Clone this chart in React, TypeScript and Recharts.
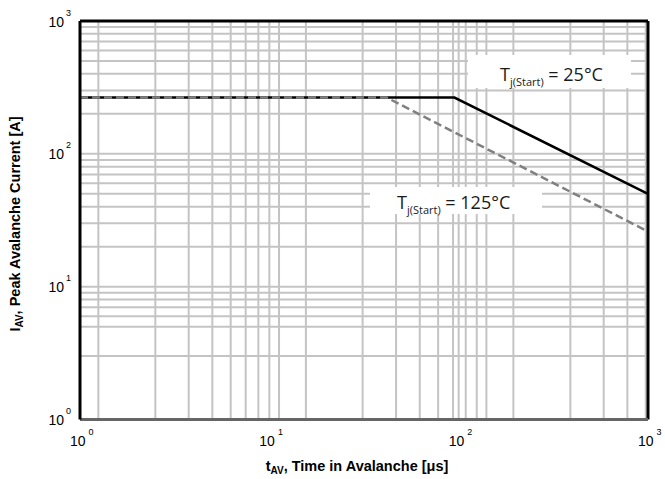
import React from 'react';
import {
  LineChart,
  Line,
  XAxis,
  YAxis,
  ReferenceLine,
} from 'recharts';

// decade ticks on both log axes
const xTicks = [1, 10, 100, 1000];
const yTicks = [1, 10, 100, 1000];

// grid positions (in axis units)
const xGrid = [
  1.25, 2.5, 3.75, 5, 6.25, 7.5, 8.75, 10, 11.25,
  15.6, 31.1, 46.7, 62.3, 77.9, 93.4, 100, 109, 124.6, 140.1,
  194.5, 389, 583.5, 778, 972.5,
];
const yGrid = [
  3, 5, 6, 7, 8, 9,
  10, 20, 30, 40, 50, 60, 70, 80, 90,
  100, 200, 300, 400, 500, 600, 700, 800, 900,
];

// avalanche curves: time [us] vs peak current [A]
const tAv25 = [1, 95, 1000];
const iAv25 = [265, 265, 50];
const tAv125 = [1, 41.7, 1000];
const iAv125 = [265, 265, 26];

const curve25 = tAv25.map((t, k) => ({ t, i: iAv25[k] }));
const curve125 = tAv125.map((t, k) => ({ t, i: iAv125[k] }));

const ARIAL = '"Liberation Sans", Arial, sans-serif';
const LABEL_FONT = '"Open Sans", "Noto Sans", sans-serif';
const GRID = '#c4c4c4';

function YTick(props: any) {
  const { x, y, payload } = props;
  const exp = Math.round(Math.log10(payload.value));
  return (
    <text x={x - 1} y={y + 5.5} textAnchor="end" fontFamily={ARIAL} fontSize={14} fill="#000">
      10
      <tspan dy={-11} dx={2} fontSize={9}>{exp}</tspan>
    </text>
  );
}

function XTick(props: any) {
  const { x, y, payload } = props;
  const exp = Math.round(Math.log10(payload.value));
  return (
    <text x={x - 10} y={y + 18} fontFamily={ARIAL} fontSize={14} fill="#000">
      10
      <tspan dy={-11} dx={3} fontSize={9}>{exp}</tspan>
    </text>
  );
}

function TempLabel({ bx, by, bw, bh, tx, ty, temp }: any) {
  return (
    <g>
      <rect x={bx} y={by} width={bw} height={bh} fill="#fff" />
      <text x={tx} y={ty} fontFamily={LABEL_FONT} fontSize={18} fill="#1a1a1a">
        T
        <tspan dy={5} fontSize={11}>j(Start)</tspan>
        <tspan dy={-5} fontSize={18}>{` = ${temp}°C`}</tspan>
      </text>
    </g>
  );
}

// curve captions and axis titles, drawn with the right-hand frame line
function Annotations() {
  return (
    <g>
      <TempLabel bx={468} by={55} bw={163} bh={33} tx={500} ty={80.5} temp={25} />
      <TempLabel bx={370} by={187} bw={172} bh={27} tx={397} ty={209} temp={125} />
      <text x={357} y={471} textAnchor="middle" fontFamily={ARIAL} fontWeight="bold" fontSize={14.5} fill="#000">
        t<tspan dy={3} fontSize={10}>AV</tspan>
        <tspan dy={-3}>, Time in Avalanche [μs]</tspan>
      </text>
      <text
        x={20}
        y={224}
        transform="rotate(-90 20 224)"
        textAnchor="middle"
        fontFamily={ARIAL}
        fontWeight="bold"
        fontSize={14.5}
        fill="#000"
      >
        I<tspan dy={3} fontSize={10}>AV</tspan>
        <tspan dy={-3}>, Peak Avalanche Current [A]</tspan>
      </text>
    </g>
  );
}

export default function App() {
  return (
    <div style={{ position: 'absolute', left: 0, top: 0, width: 665, height: 479, background: '#fff' }}>
      <LineChart width={665} height={479} margin={{ top: 21, right: 17, bottom: 29.5, left: 16 }}>
        <XAxis
          dataKey="t"
          type="number"
          scale="log"
          domain={[1, 1000]}
          ticks={xTicks}
          allowDataOverflow
          height={30}
          tick={<XTick />}
          tickLine={false}
          axisLine={{ stroke: '#666', strokeWidth: 3 }}
        />
        <YAxis
          dataKey="i"
          type="number"
          scale="log"
          domain={[1, 1000]}
          ticks={yTicks}
          allowDataOverflow
          width={64}
          tick={<YTick />}
          tickLine={false}
          axisLine={{ stroke: '#000', strokeWidth: 3 }}
        />
        {xGrid.map((v) => (
          <ReferenceLine key={`gx${v}`} x={v} stroke={GRID} strokeWidth={2} />
        ))}
        {yGrid.map((v) => (
          <ReferenceLine key={`gy${v}`} y={v} stroke={GRID} strokeWidth={2} />
        ))}
        <Line
          data={curve25}
          dataKey="i"
          stroke="#000"
          strokeWidth={2.5}
          dot={false}
          isAnimationActive={false}
        />
        <Line
          data={curve125}
          dataKey="i"
          stroke="#808080"
          strokeWidth={2.5}
          strokeDasharray="8 4"
          dot={false}
          isAnimationActive={false}
        />
        <ReferenceLine y={1000} stroke="#000" strokeWidth={3} />
        <ReferenceLine x={1000} stroke="#000" strokeWidth={3} label={<Annotations />} />
      </LineChart>
    </div>
  );
}
